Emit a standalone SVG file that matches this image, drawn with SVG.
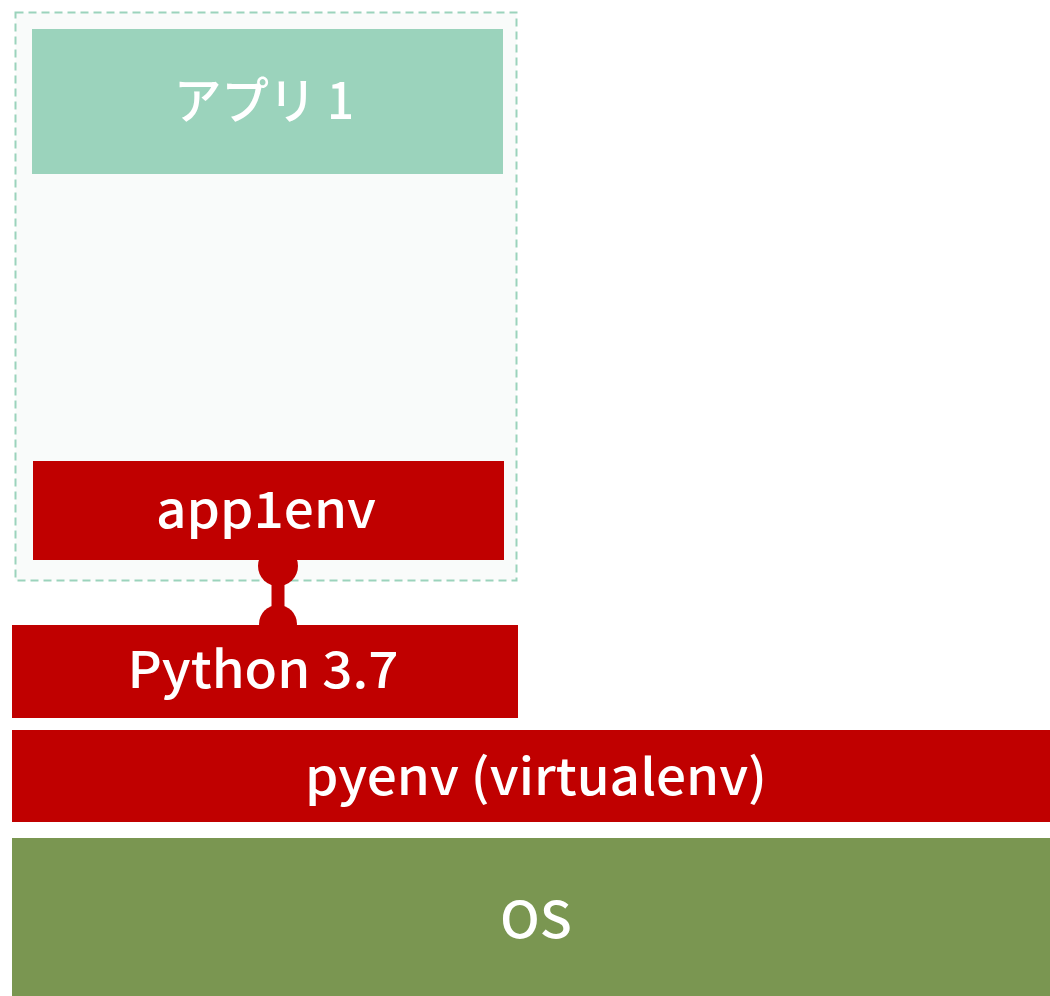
<svg xmlns="http://www.w3.org/2000/svg" width="1050" height="996" viewBox="0 0 1050 996">
  <style>
    .lbl { font-family: "Noto Sans CJK JP", "Noto Sans", sans-serif; font-weight: 500; fill: #ffffff; text-anchor: middle; }
    .red { fill: #c00000; }
  </style>
  <rect x="0" y="0" width="1050" height="996" fill="#ffffff"/>

  <!-- app container -->
  <g id="container">
    <rect x="15.5" y="12.5" width="501" height="568" fill="#f9fbfa" stroke="#9bd3bc" stroke-width="2" stroke-dasharray="8 5"/>
  </g>

  <g id="app1">
    <rect x="32" y="29" width="471" height="145" fill="#9bd3bc"/>
    <text class="lbl" x="264" y="119" font-size="50" textLength="180" lengthAdjust="spacingAndGlyphs">アプリ 1</text>
  </g>

  <g id="app1env">
    <rect class="red" x="33" y="461" width="471" height="99"/>
    <text class="lbl" x="266" y="528" font-size="50" textLength="220" lengthAdjust="spacingAndGlyphs">app1env</text>
  </g>

  <g id="python">
    <rect class="red" x="12" y="625" width="506" height="93"/>
    <text class="lbl" x="263" y="688" font-size="50" textLength="271" lengthAdjust="spacingAndGlyphs">Python 3.7</text>
  </g>

  <g id="pyenv">
    <rect class="red" x="12" y="730" width="1038" height="92"/>
    <text class="lbl" x="536" y="795" font-size="50" textLength="462" lengthAdjust="spacingAndGlyphs">pyenv (virtualenv)</text>
  </g>

  <g id="os">
    <rect x="12" y="838" width="1038" height="158" fill="#7a9651"/>
    <text class="lbl" x="536" y="938" font-size="50" textLength="72" lengthAdjust="spacingAndGlyphs">OS</text>
  </g>

  <!-- link between app1env and Python 3.7 -->
  <g id="connectors">
    <line x1="278" y1="566" x2="278" y2="624" stroke="#c00000" stroke-width="13"/>
    <circle class="red" cx="278" cy="566" r="20"/>
    <circle class="red" cx="278" cy="624" r="19"/>
  </g>
</svg>
